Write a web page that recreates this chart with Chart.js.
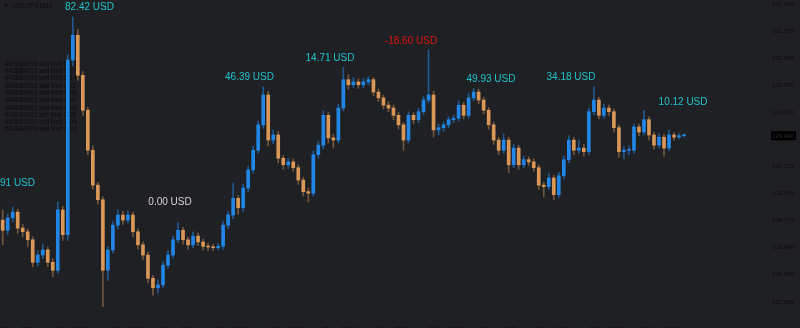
<!DOCTYPE html>
<html>
<head>
<meta charset="utf-8">
<script src="https://cdn.jsdelivr.net/npm/chart.js@4/dist/chart.umd.min.js"></script>
<style>
    html, body { margin: 0; padding: 0; background: #1f2024; }
    #wrap { width: 800px; height: 328px; }
</style>
</head>
<body>
<div id="wrap"><canvas id="priceChart" width="800" height="328"></canvas></div>
<script>
// --- Data (USDJPY, one candle per 1.5h) ---
const opens = [128.78, 128.64, 128.81, 128.89, 128.67, 128.62, 128.51, 128.20, 128.30, 128.37,
    128.20, 128.09, 128.92, 128.58, 130.98, 131.32, 130.77, 130.29, 129.74, 129.26,
    129.06, 128.09, 128.37, 128.71, 128.85, 128.78, 128.85, 128.62, 128.44, 128.30,
    127.98, 127.85, 127.89, 128.16, 128.30, 128.51, 128.64, 128.51, 128.44, 128.56,
    128.48, 128.42, 128.41, 128.40, 128.42, 128.71, 128.85, 129.08, 128.95, 129.22,
    129.47, 129.74, 130.09, 130.50, 129.88, 129.95, 129.63, 129.54, 129.58, 129.50,
    129.33, 129.17, 129.15, 129.68, 129.81, 130.22, 129.91, 129.88, 130.32, 130.71,
    130.64, 130.68, 130.64, 130.68, 130.71, 130.54, 130.46, 130.36, 130.32, 130.22,
    130.09, 129.88, 130.22, 130.16, 130.27, 130.43, 130.50, 130.02, 130.05, 130.09,
    130.16, 130.18, 130.36, 130.22, 130.46, 130.54, 130.43, 130.29, 130.09, 129.88,
    129.74, 129.88, 129.54, 129.77, 129.54, 129.61, 129.58, 129.50, 129.26, 129.24,
    129.36, 129.13, 129.39, 129.61, 129.88, 129.74, 129.77, 129.72, 130.27, 130.43,
    130.22, 130.32, 130.27, 130.05, 129.72, 129.74, 129.74, 130.06, 129.99, 130.16,
    129.95, 129.81, 129.92, 129.77, 129.95, 129.92, 129.94];
const highs = [128.92, 128.86, 128.96, 128.93, 128.72, 128.66, 128.55, 128.36, 128.45, 128.41,
    128.25, 129.03, 128.97, 131.05, 131.57, 131.40, 130.82, 130.33, 129.80, 129.30,
    129.10, 128.42, 128.76, 128.92, 128.90, 128.91, 128.89, 128.66, 128.48, 128.34,
    128.02, 127.96, 128.21, 128.36, 128.56, 128.75, 128.68, 128.55, 128.62, 128.60,
    128.52, 128.46, 128.45, 128.46, 128.76, 128.90, 129.29, 129.12, 129.27, 129.52,
    129.80, 130.14, 130.61, 130.55, 130.02, 130.00, 129.67, 129.63, 129.62, 129.54,
    129.37, 129.22, 129.73, 129.86, 130.28, 130.26, 129.96, 130.37, 130.88, 130.78,
    130.74, 130.72, 130.73, 130.75, 130.74, 130.58, 130.50, 130.41, 130.36, 130.26,
    130.12, 130.27, 130.26, 130.32, 130.48, 131.12, 130.55, 130.10, 130.13, 130.20,
    130.22, 130.42, 130.40, 130.52, 130.59, 130.58, 130.47, 130.33, 130.13, 129.92,
    129.96, 129.92, 129.82, 129.81, 129.66, 129.65, 129.62, 129.54, 129.30, 129.42,
    129.40, 129.44, 129.66, 129.94, 129.92, 129.88, 129.82, 130.32, 130.61, 130.47,
    130.37, 130.36, 130.31, 130.09, 129.79, 129.80, 130.10, 130.10, 130.29, 130.20,
    129.99, 129.97, 129.96, 130.02, 129.98, 129.97, 129.96];
const lows = [128.44, 128.58, 128.76, 128.60, 128.55, 128.42, 128.14, 128.15, 128.25, 128.14,
    128.00, 128.05, 128.50, 128.50, 130.90, 130.70, 130.22, 129.68, 129.20, 129.00,
    127.59, 127.95, 128.33, 128.66, 128.72, 128.74, 128.55, 128.38, 128.24, 127.92,
    127.75, 127.78, 127.85, 128.12, 128.26, 128.47, 128.45, 128.38, 128.40, 128.43,
    128.37, 128.36, 128.36, 128.37, 128.38, 128.66, 128.80, 128.86, 128.90, 129.17,
    129.42, 129.70, 130.04, 129.80, 129.83, 129.57, 129.48, 129.49, 129.45, 129.27,
    129.11, 129.03, 129.11, 129.63, 129.76, 129.84, 129.77, 129.84, 130.28, 130.58,
    130.60, 130.59, 130.60, 130.64, 130.49, 130.41, 130.31, 130.27, 130.16, 130.03,
    129.74, 129.84, 130.10, 130.12, 130.23, 130.39, 129.92, 129.95, 130.00, 130.05,
    130.12, 130.14, 130.17, 130.18, 130.42, 130.38, 130.24, 130.03, 129.82, 129.68,
    129.70, 129.43, 129.50, 129.48, 129.50, 129.53, 129.45, 129.20, 129.10, 129.20,
    129.06, 129.09, 129.35, 129.57, 129.68, 129.70, 129.66, 129.68, 130.23, 130.17,
    130.18, 130.22, 129.99, 129.64, 129.62, 129.68, 129.70, 129.94, 129.95, 129.88,
    129.75, 129.77, 129.66, 129.73, 129.88, 129.90, 129.92];
const closes = [128.64, 128.81, 128.89, 128.67, 128.62, 128.51, 128.20, 128.30, 128.37, 128.20,
    128.09, 128.92, 128.58, 130.98, 131.32, 130.77, 130.29, 129.74, 129.26, 129.06,
    128.09, 128.37, 128.71, 128.85, 128.78, 128.85, 128.62, 128.44, 128.30, 127.98,
    127.85, 127.89, 128.16, 128.30, 128.51, 128.64, 128.51, 128.44, 128.56, 128.48,
    128.42, 128.41, 128.40, 128.42, 128.71, 128.85, 129.08, 128.95, 129.22, 129.47,
    129.74, 130.09, 130.50, 129.88, 129.95, 129.63, 129.54, 129.58, 129.50, 129.33,
    129.17, 129.15, 129.68, 129.81, 130.22, 129.91, 129.88, 130.32, 130.71, 130.64,
    130.68, 130.64, 130.68, 130.71, 130.54, 130.46, 130.36, 130.32, 130.22, 130.09,
    129.88, 130.22, 130.16, 130.27, 130.43, 130.50, 130.02, 130.05, 130.09, 130.16,
    130.18, 130.36, 130.22, 130.46, 130.54, 130.43, 130.29, 130.09, 129.88, 129.74,
    129.88, 129.54, 129.77, 129.54, 129.61, 129.58, 129.50, 129.26, 129.24, 129.36,
    129.13, 129.39, 129.61, 129.88, 129.74, 129.77, 129.72, 130.27, 130.43, 130.22,
    130.32, 130.27, 130.05, 129.72, 129.74, 129.74, 130.06, 129.99, 130.16, 129.95,
    129.81, 129.92, 129.77, 129.95, 129.92, 129.94, 129.94];

// M30 bar position of each candle (3 x M30 per candle)
const barIndex = closes.map((_, i) => 1 + 3 * i);

// Axis labels
const timeTickBars = [0, 32, 64, 96, 128, 160, 192, 224, 256, 288, 320, 352, 384];
const timeTickLabels = ['17 Jan 2023', '18 Jan 01:30', '18 Jan 17:30', '19 Jan 09:30', '20 Jan 01:30',
    '20 Jan 17:30', '23 Jan 09:30', '24 Jan 01:30', '24 Jan 17:30', '25 Jan 09:30',
    '26 Jan 01:30', '26 Jan 17:30', '27 Jan 09:30'];
const priceTicks = [131.750, 131.375, 131.005, 130.630, 130.260, 129.885,
    129.515, 129.145, 128.775, 128.400, 128.030, 127.655];

// Profit labels on the chart
const profitTexts = ['91 USD', '82.42 USD', '0.00 USD', '46.39 USD', '14.71 USD',
    '-18.60 USD', '49.93 USD', '34.18 USD', '10.12 USD'];
const profitBars = [-0.6, 53, 101.2, 148.8, 197, 245.5, 293.4, 341.3, 408.4];
const profitPrices = [129.28, 131.71, 129.02, 130.75, 131.01, 131.24, 130.72, 130.75, 130.40];

// Pending orders list (top-left)
const orderTickets = ['#43684918', '#43684917', '#43684916', '#43684915', '#43684914',
    '#43684913', '#43684912', '#43684911', '#43684910', '#43684909'];
const orderLots = ['0.21', '0.17', '0.14', '0.11', '0.09', '0.07', '0.06', '0.05', '0.04', '0.03'];

const UP = '#2286e6';
const DOWN = '#d99758';
const UP_WICK = 'rgba(34, 134, 230, 0.55)';
const DOWN_WICK = 'rgba(217, 151, 88, 0.45)';
const AXIS_TEXT = '#0b0b0d';

function isUp(i) { return closes[i] >= opens[i]; }

// --- Plugins ---
const backgroundPlugin = {
    id: 'bg',
    beforeDraw(chart) {
        const ctx = chart.ctx;
        ctx.save();
        ctx.fillStyle = '#1f2024';
        ctx.fillRect(0, 0, chart.width, chart.height);
        ctx.restore();
    },
    beforeDatasetsDraw(chart) {
        const ctx = chart.ctx;
        ctx.save();
        ctx.fillStyle = AXIS_TEXT;
        ctx.font = '6.5px "Liberation Sans", Arial, sans-serif';
        ctx.textBaseline = 'middle';
        ctx.fillText('\u25BC  USDJPY,M30', 3, 6);
        orderTickets.forEach((t, i) => {
            ctx.fillText(t + ' sell limit ' + orderLots[i], 5, 64 + i * 7.3);
        });
        ctx.restore();
    }
};

const labelsPlugin = {
    id: 'profitLabels',
    afterDraw(chart) {
        const ctx = chart.ctx;
        const xs = chart.scales.x;
        const ys = chart.scales.y;
        ctx.save();
        ctx.font = '10px "Liberation Sans", Arial, sans-serif';
        ctx.textBaseline = 'middle';
        profitTexts.forEach((txt, i) => {
            let color = '#1fc4cc';
            if (txt.startsWith('-')) color = '#dc1414';
            else if (txt.startsWith('0.00')) color = '#d4d4d4';
            ctx.fillStyle = color;
            ctx.textAlign = i === 0 ? 'left' : 'center';
            ctx.fillText(txt, xs.getPixelForValue(profitBars[i]), ys.getPixelForValue(profitPrices[i]));
        });

        // last price box on the price axis
        const last = closes[closes.length - 1];
        const py = ys.getPixelForValue(last);
        ctx.fillStyle = '#000000';
        ctx.fillRect(771, py - 4.5, 25, 9);
        ctx.fillStyle = '#2c2c2c';
        ctx.font = '6px "Liberation Sans", Arial, sans-serif';
        ctx.textAlign = 'right';
        ctx.fillText(last.toFixed(3), 794, py + 0.5);
        ctx.restore();
    }
};

// --- Chart ---
const ctx = document.getElementById('priceChart').getContext('2d');
new Chart(ctx, {
    type: 'bar',
    data: {
        datasets: [
            {
                label: 'wick',
                data: barIndex.map((b, i) => ({ x: b, y: [lows[i], highs[i]] })),
                backgroundColor: c => isUp(c.dataIndex) ? UP_WICK : DOWN_WICK,
                barThickness: 1,
                grouped: false,
                borderWidth: 0,
                order: 2
            },
            {
                label: 'body',
                data: barIndex.map((b, i) => ({ x: b, y: [opens[i], closes[i]] })),
                backgroundColor: c => isUp(c.dataIndex) ? UP : DOWN,
                barThickness: 3,
                minBarLength: 1,
                grouped: false,
                borderWidth: 0,
                order: 1
            }
        ]
    },
    options: {
        responsive: false,
        animation: false,
        devicePixelRatio: 1,
        layout: { padding: { left: 0, right: 6, top: 0, bottom: 0 } },
        plugins: {
            legend: { display: false },
            tooltip: { enabled: false }
        },
        scales: {
            x: {
                type: 'linear',
                min: -0.6,
                max: 445.5,
                offset: false,
                grid: { display: false },
                border: { display: false },
                afterBuildTicks: s => { s.ticks = timeTickBars.map(v => ({ value: v })); },
                afterFit: s => { s.height = 16; s.paddingLeft = 0; s.paddingRight = 0; },
                ticks: {
                    autoSkip: false,
                    maxRotation: 0,
                    align: 'start',
                    padding: 6,
                    color: AXIS_TEXT,
                    font: { family: '"Liberation Sans", Arial, sans-serif', size: 6 },
                    callback: (v) => timeTickLabels[timeTickBars.indexOf(v)] || ''
                }
            },
            y: {
                position: 'right',
                min: 127.517,
                max: 131.805,
                grid: { display: false },
                border: { display: false },
                afterBuildTicks: s => { s.ticks = priceTicks.map(v => ({ value: v })); },
                afterFit: s => { s.width = 49; s.paddingTop = 0; s.paddingBottom = 0; },
                ticks: {
                    crossAlign: 'far',
                    color: AXIS_TEXT,
                    font: { family: '"Liberation Sans", Arial, sans-serif', size: 6 },
                    callback: v => Number(v).toFixed(3)
                }
            }
        }
    },
    plugins: [backgroundPlugin, labelsPlugin]
});
</script>
</body>
</html>
